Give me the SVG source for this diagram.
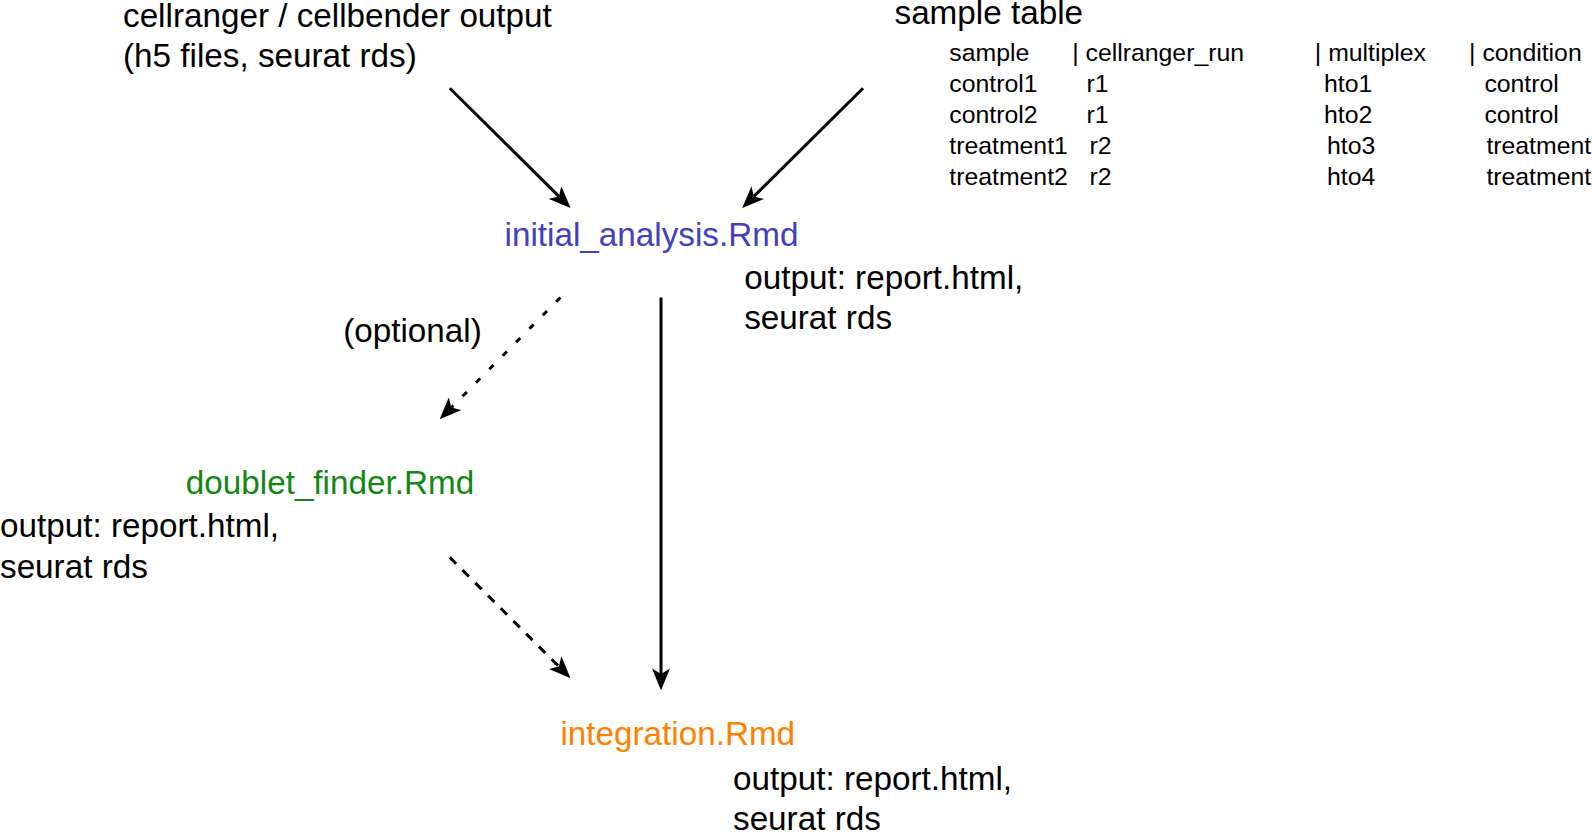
<svg xmlns="http://www.w3.org/2000/svg" width="1592" height="832" viewBox="0 0 1592 832">
<style>
text{font-family:"Liberation Sans",Arial,Helvetica,sans-serif;fill:#000}
.big{font-size:33.25px}
.tbl{font-size:24.8px}
.blue{fill:#4040C0}
.green{fill:#118811}
.orange{fill:#FF8000}
.edge{stroke:#000;stroke-width:3;fill:none;marker-end:url(#arr)}
.dot{stroke-dasharray:6 13}
.dash{stroke-dasharray:9 9}
</style>
<defs>
<marker id="arr" viewBox="0 0 22 18" markerWidth="22" markerHeight="18" refX="5.5" refY="9" orient="auto" markerUnits="userSpaceOnUse">
<path d="M0,0 L22,9 L0,18 L5.5,9 Z" fill="#000"/>
</marker>
</defs>
<rect width="1592" height="832" fill="#fff"/>
<g id="cellranger_output">
<text class="big" x="123" y="27">cellranger / cellbender output</text>
<text class="big" x="123" y="67">(h5 files, seurat rds)</text>
</g>
<g id="sample_table">
<text class="big" x="894.5" y="24">sample table</text>
<text class="tbl" x="949.3" y="60.5">sample</text>
<text class="tbl" x="1072.2" y="60.5">| cellranger_run</text>
<text class="tbl" x="1314.8" y="60.5">| multiplex</text>
<text class="tbl" x="1469.1" y="60.5">| condition</text>
<text class="tbl" x="949.3" y="91.7">control1</text>
<text class="tbl" x="1086.4" y="91.7">r1</text>
<text class="tbl" x="1324" y="91.7">hto1</text>
<text class="tbl" x="1484.4" y="91.7">control</text>
<text class="tbl" x="949.3" y="122.9">control2</text>
<text class="tbl" x="1086.4" y="122.9">r1</text>
<text class="tbl" x="1324" y="122.9">hto2</text>
<text class="tbl" x="1484.4" y="122.9">control</text>
<text class="tbl" x="949.3" y="154.1">treatment1</text>
<text class="tbl" x="1089.4" y="154.1">r2</text>
<text class="tbl" x="1327" y="154.1">hto3</text>
<text class="tbl" x="1486.4" y="154.1">treatment</text>
<text class="tbl" x="949.3" y="185.3">treatment2</text>
<text class="tbl" x="1089.4" y="185.3">r2</text>
<text class="tbl" x="1327" y="185.3">hto4</text>
<text class="tbl" x="1486.4" y="185.3">treatment</text>
</g>
<g id="initial_analysis">
<text class="big blue" x="504.6" y="246">initial_analysis.Rmd</text>
<text class="big" x="744.2" y="288.5">output: report.html,</text>
<text class="big" x="744.2" y="328.5">seurat rds</text>
</g>
<g id="doublet_finder">
<text class="big green" x="185.8" y="494">doublet_finder.Rmd</text>
<text class="big" x="0" y="537">output: report.html,</text>
<text class="big" x="0" y="577.5">seurat rds</text>
</g>
<g id="integration">
<text class="big orange" x="560.4" y="745">integration.Rmd</text>
<text class="big" x="733" y="790">output: report.html,</text>
<text class="big" x="733" y="830">seurat rds</text>
</g>
<g id="connectors">
<line class="edge" x1="449.8" y1="88.3" x2="558.9" y2="196.4"/>
<line class="edge" x1="863" y1="88.3" x2="753.9" y2="196.4"/>
<line class="edge dot" x1="560.4" y1="297.5" x2="451.3" y2="407.6"/>
<text class="big" x="343.2" y="342">(optional)</text>
<line class="edge" x1="661" y1="297.5" x2="661" y2="673.9"/>
<line class="edge dash" x1="449.8" y1="557.4" x2="558.9" y2="666.5"/>
</g>
</svg>
